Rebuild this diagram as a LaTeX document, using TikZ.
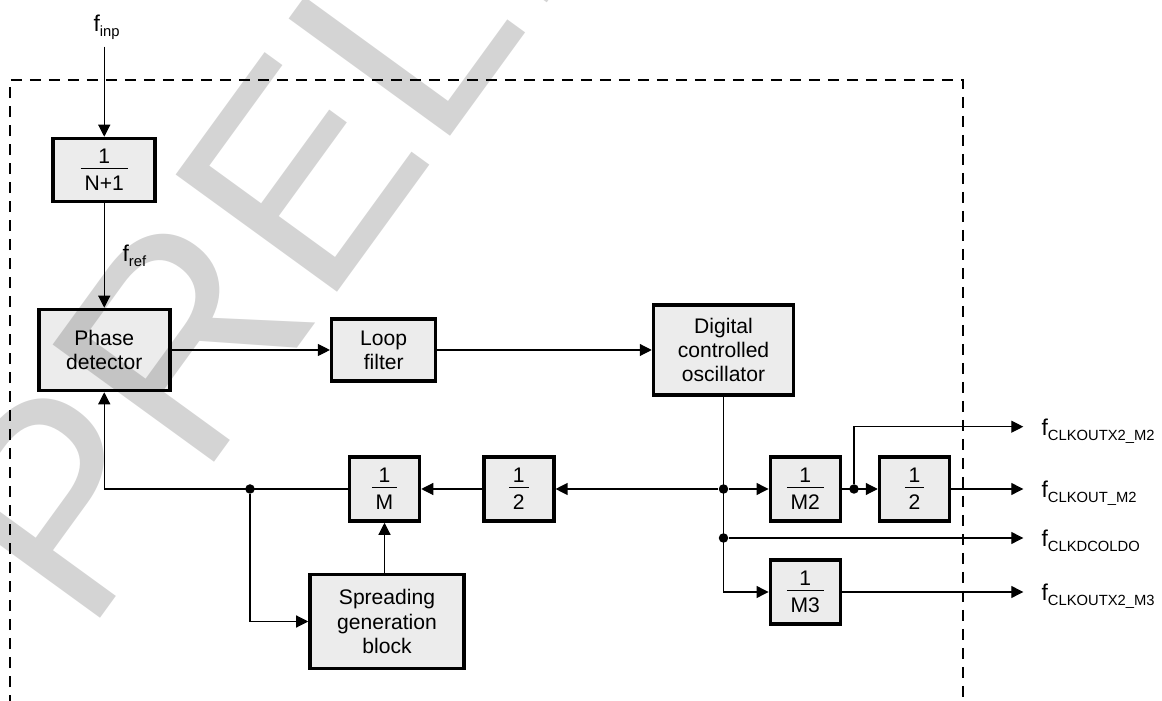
\documentclass[tikz,border=0pt]{standalone}
\usepackage{fontspec}
\setmainfont{Liberation Sans}
\usetikzlibrary{arrows.meta}

\setlength{\arrayrulewidth}{0.6pt}
\newcommand{\frc}[2]{\begin{tabular}{@{\hspace{2.2pt}}c@{\hspace{2.2pt}}}\rule{0pt}{9.6pt}#1\\[-1.3pt]\hline\rule{0pt}{12pt}#2\\[-2.5pt]\end{tabular}}
\newcommand{\fsub}[1]{{\fontsize{13}{14}\selectfont f}\raisebox{-2.5pt}{\fontsize{8.4}{10}\selectfont #1}}

\tikzset{
  blk/.style={draw, line width=2pt, fill=black!7.5, align=center, inner sep=0pt},
  div/.style={blk, minimum width=1.400cm, minimum height=1.280cm},
  arr/.style={-{Triangle[length=0.24cm,width=0.24cm]}},
  jdot/.style={circle, fill, inner sep=0pt, minimum size=0.190cm},
  lbl/.style={inner sep=0pt},
  dashframe/.style={line width=1.4pt, dash pattern=on 0.23cm off 0.15cm},
  wmark/.style={font=\fontsize{165}{165}\selectfont, text=black, text opacity=0.17, inner sep=0pt}
}

\begin{document}
\begin{tikzpicture}[font=\fontsize{12}{13.7}\selectfont, line width=0.65pt]
\useasboundingbox (0,0) rectangle (23.240,14.000);
\clip (0,0) rectangle (23.240,14.000);
% dashed device frame
\draw[dashframe] (0.200,-0.500) -- (0.200,12.400) -- (19.260,12.400) -- (19.260,-0.500);

% blocks
\node[blk, minimum width=2.040cm, minimum height=1.260cm] (nplus) at (2.085,10.600) {\frc{1}{N+1}};
\node[blk, minimum width=2.620cm, minimum height=1.620cm] (pd) at (2.085,7.000) {Phase\\detector};
\node[blk, minimum width=2.080cm, minimum height=1.240cm] (loop) at (7.674,7.000) {Loop\\filter};
\node[blk, minimum width=2.800cm, minimum height=1.800cm] (dco) at (14.470,7.000) {Digital\\controlled\\oscillator};
\node[div] (divm) at (7.690,4.220) {\frc{1}{M}};
\node[div] (half) at (10.376,4.220) {\frc{1}{2}};
\node[div] (m2) at (16.106,4.220) {\frc{1}{M2}};
\node[div] (half2) at (18.290,4.220) {\frc{1}{2}};
\node[div] (m3) at (16.106,2.160) {\frc{1}{M3}};
\node[blk, minimum width=3.080cm, minimum height=1.880cm] (spread) at (7.740,1.570) {Spreading\\generation\\block};

% junctions
\node[jdot] (dot1) at (5.000,4.220) {};
\node[jdot] (dota) at (14.470,4.220) {};
\node[jdot] (dot2) at (17.080,4.220) {};
\node[jdot] (dot3) at (14.470,3.240) {};

% labels
\node[lbl, anchor=base west] (finp) at (1.860,13.360) {\fsub{inp}};
\node[lbl, anchor=base west] (fref) at (2.440,8.766) {\fsub{ref}};
\coordinate (tx2m2) at (20.466,5.466);
\coordinate (tm2) at (20.466,4.220);
\coordinate (tdco) at (20.466,3.240);
\coordinate (tx2m3) at (20.466,2.160);
\node[lbl, anchor=base west] (lx2m2) at (20.820,5.286) {\fsub{CLKOUTX2\_M2}};
\node[lbl, anchor=base west] (lm2) at (20.820,4.040) {\fsub{CLKOUT\_M2}};
\node[lbl, anchor=base west] (ldco) at (20.820,3.060) {\fsub{CLKDCOLDO}};
\node[lbl, anchor=base west] (lx2m3) at (20.820,1.980) {\fsub{CLKOUTX2\_M3}};

% signal path
\draw[arr] ([yshift=-0.13cm]finp.south -| nplus.north) -- (nplus.north);
\draw[arr] (nplus) -- (pd);
\draw[arr] (pd) -- (loop);
\draw[arr] (loop) -- (dco);
\draw[arr] (dco.south) |- (m3.west);
\draw[arr] (dota) -- (half);
\draw[arr] (half) -- (divm);
\draw[arr] (divm.west) -| (pd.south);
\draw[arr] (dot1) |- (spread.west);
\draw[arr] (spread.north -| divm.south) -- (divm.south);
\draw[arr] (dota) -- (m2);
\draw[arr] (m2) -- (half2);
\draw[arr] (dot2) |- (tx2m2);
\draw[arr] (half2) -- (tm2);
\draw[arr] (dot3) -- (tdco);
\draw[arr] (m3) -- (tx2m3);

% watermark
\node[wmark, rotate=54, anchor=base west] (wm) at (1.720,1.240) {PRELIMINARY};
\end{tikzpicture}
\end{document}
